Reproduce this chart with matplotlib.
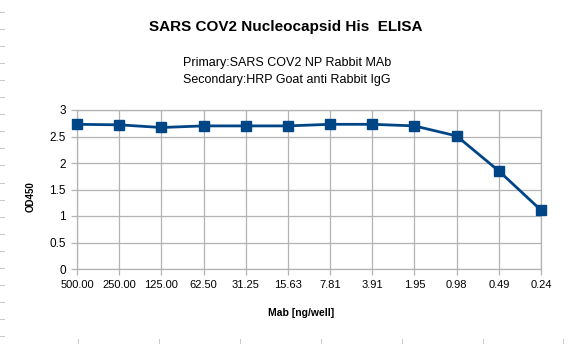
import matplotlib
matplotlib.use("Agg")
import matplotlib.pyplot as plt
from matplotlib.lines import Line2D

plt.rcParams['font.family'] = ['Liberation Sans', 'DejaVu Sans']

categories = ["500.00", "250.00", "125.00", "62.50", "31.25", "15.63", "7.81",
              "3.91", "1.95", "0.98", "0.49", "0.24"]
od450 = [2.73, 2.72, 2.67, 2.70, 2.70, 2.70, 2.73, 2.73, 2.70, 2.51, 1.85, 1.11]
yticks = [0, 0.5, 1, 1.5, 2, 2.5, 3]
ytick_labels = ["0", "0.5", "1", "1.5", "2", "2.5", "3"]

W, H = 570, 344
fig = plt.figure(figsize=(W / 100, H / 100), dpi=100)
fig.patch.set_facecolor("white")

left, right, top, bottom = 77, 541, 110, 269
ax = fig.add_axes([left / W, 1 - bottom / H, (right - left) / W, (bottom - top) / H])

x = list(range(len(categories)))
ax.plot(x, od450, color="#004586", lw=2.0, marker="s", markersize=6.8,
        markerfacecolor="#004586", markeredgecolor="#004586", zorder=3, clip_on=False)

ax.set_xlim(0, len(categories) - 1)
ax.set_ylim(0, 3)
ax.set_xticks(x)
ax.set_xticklabels(categories, fontsize=8)
ax.set_yticks(yticks)
ax.set_yticklabels(ytick_labels, fontsize=8.5)
ax.grid(True, color="#b3b3b3", lw=0.9)
ax.set_axisbelow(True)
for s in ax.spines.values():
    s.set_color("#b3b3b3")
    s.set_linewidth(0.9)
ax.tick_params(axis="both", length=4, color="#b3b3b3", width=0.9, pad=4, labelcolor="black")

fig.text(286 / W, 1 - 27 / H, "SARS COV2 Nucleocapsid His  ELISA", ha="center", va="center",
         fontsize=11, fontweight="bold")
fig.text(287 / W, 1 - 63 / H, "Primary:SARS COV2 NP Rabbit MAb", ha="center", va="center",
         fontsize=9)
fig.text(287 / W, 1 - 80 / H, "Secondary:HRP Goat anti Rabbit IgG", ha="center", va="center",
         fontsize=9)
fig.text(301 / W, 1 - 313 / H, "Mab [ng/well]", ha="center", va="center",
         fontsize=7.5, fontweight="bold")
fig.text(31 / W, 1 - 197 / H, "OD450", ha="center", va="center", rotation=90,
         fontsize=7, fontweight="bold")

# faint page edge marks
for k in range(20):
    yy = 11.5 + 17.1 * k
    fig.add_artist(Line2D([0, 4 / W], [1 - yy / H, 1 - yy / H], color="#c8c8c8", lw=0.7))
for xx in [78, 159, 240, 321, 402, 483, 563]:
    fig.add_artist(Line2D([xx / W, xx / W], [0, 5 / H], color="#c8c8c8", lw=0.7))

fig.savefig("out.png", dpi=100, facecolor="white")
